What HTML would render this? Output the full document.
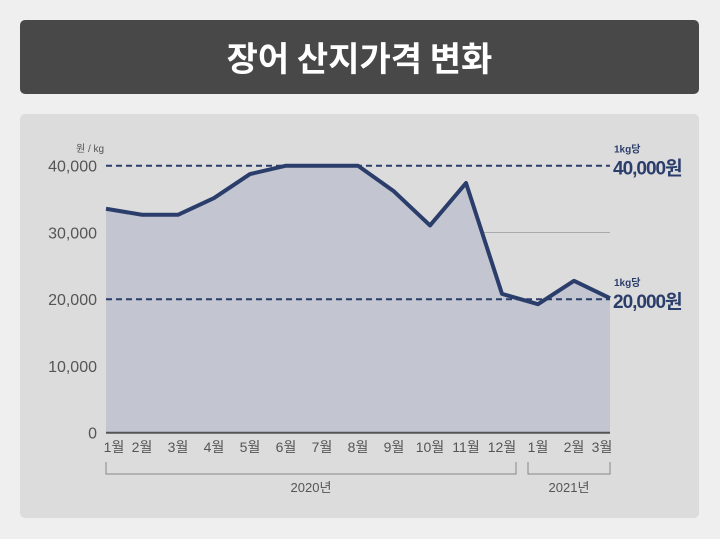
<!DOCTYPE html>
<html><head><meta charset="utf-8">
<style>
body{margin:0;width:720px;height:539px;background:#efefef;font-family:"Liberation Sans","Noto Sans CJK KR",sans-serif;overflow:hidden}
</style></head>
<body>
<div style="position:absolute;left:20px;top:20px;width:679px;height:74px;background:#484848;border-radius:5px;color:#fff;font-size:34px;font-weight:bold;text-align:center;line-height:74px;font-family:'Noto Sans CJK KR',sans-serif">장어 산지가격 변화</div>
<div style="position:absolute;left:20px;top:114px;width:679px;height:404px;background:#dcdcdc;border-radius:5px"></div>
<svg id="chart" width="720" height="539" style="position:absolute;left:0;top:0"></svg>
<script>
const categories=["1월","2월","3월","4월","5월","6월","7월","8월","9월","10월","11월","12월","1월","2월","3월"];
const prices=[33550,32650,32650,35150,38750,40000,40000,40000,36150,31050,37400,20800,19250,22750,20150];
const yTicks=[0,10000,20000,30000,40000];
const refValues=[40000,20000];
const refLabels=["40,000원","20,000원"];
const NS="http://www.w3.org/2000/svg";
const svg=document.getElementById('chart');
const x0=106,x1=610,yb=432.7,yt=165.7;
const xs=i=>x0+(x1-x0)*i/(categories.length-1);
const ys=v=>yb-(v/40000)*(yb-yt);
function mk(t,a,txt){const e=document.createElementNS(NS,t);for(const k in a)e.setAttribute(k,a[k]);if(txt!==undefined)e.textContent=txt;svg.appendChild(e);return e;}
const F='"Liberation Sans","Noto Sans CJK KR",sans-serif';
yTicks.forEach(v=>{
 if(v>0&&v<40000&&v!==20000){const g=mk('line',{x1:x0,x2:x1,y1:ys(v),y2:ys(v),stroke:'#aaa','stroke-width':1});}
 const t=mk('text',{x:97,y:ys(v)+6,'text-anchor':'end','font-size':16,fill:'#555','font-family':F},v.toLocaleString('en-US'));
 
});
let d=`M${xs(0)},${yb}`;prices.forEach((p,i)=>d+=` L${xs(i)},${ys(p)}`);d+=` L${xs(prices.length-1)},${yb} Z`;
const area=mk('path',{d,fill:'#c3c6d0'});
const ax=mk('line',{x1:x0,x2:x1,y1:yb,y2:yb,stroke:'#555','stroke-width':2});
refValues.forEach((v,i)=>{
 const l=mk('line',{x1:x0,x2:x1,y1:ys(v),y2:ys(v),stroke:'#2b3e6b','stroke-width':2,'stroke-dasharray':'6,4'});
 
 const a=mk('text',{x:614,y:ys(v)-13,'font-size':10,fill:'#2b3e6b','font-family':F,'font-weight':'bold'},'1kg당');
 
 const b=mk('text',{x:613,y:ys(v)+9,'font-size':19,fill:'#2b3e6b','font-family':F,'font-weight':'bold','letter-spacing':'-1'},refLabels[i]);
 
});
const line=mk('polyline',{points:prices.map((p,i)=>xs(i)+','+ys(p)).join(' '),fill:'none',stroke:'#2b3e6b','stroke-width':4,'stroke-linejoin':'round'});

categories.forEach((c,i)=>{const t=mk('text',{x:xs(i)+(i==0?8:i==categories.length-1?-8:0),y:452,'text-anchor':'middle','font-size':14,fill:'#555','font-family':F},c);
 });
const u=mk('text',{x:76,y:152,'font-size':10,fill:'#555','font-family':F},'원 / kg');
[[x0,xs(11)+14,'2020년'],[xs(12)-10,x1,'2021년']].forEach(b=>{
 const p=mk('path',{d:`M${b[0]},462 V474 H${b[1]} V462`,fill:'none',stroke:'#888','stroke-width':1});
 
 const t=mk('text',{x:(b[0]+b[1])/2,y:492,'text-anchor':'middle','font-size':13,fill:'#555','font-family':F},b[2]);
 
});
</script>
</body></html>
